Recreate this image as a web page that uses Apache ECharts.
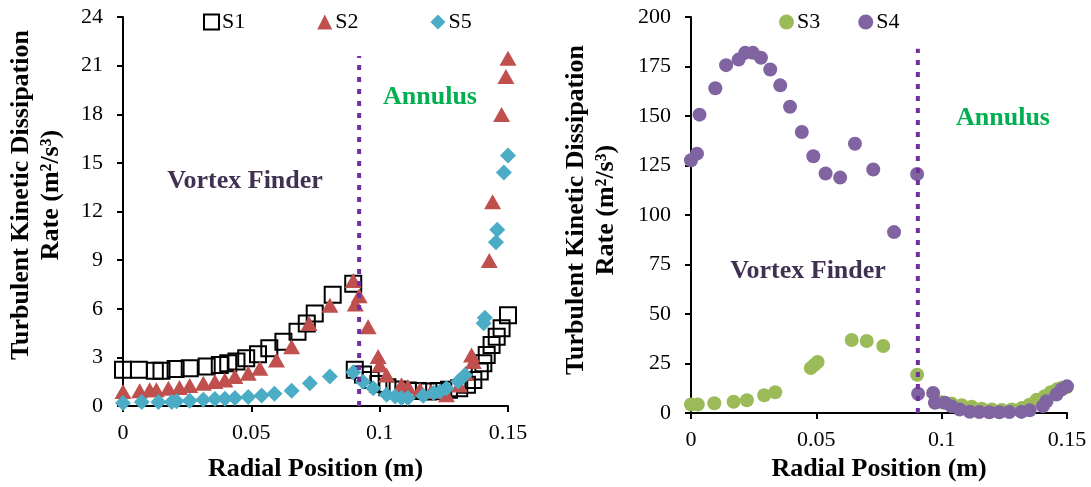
<!DOCTYPE html>
<html>
<head>
<meta charset="utf-8">
<script src="https://cdn.jsdelivr.net/npm/echarts@6/dist/echarts.min.js"></script>
<style>
  html, body { margin: 0; padding: 0; background: #fff; }
  #chart { width: 1091px; height: 487px; }
</style>
</head>
<body>
<div id="chart"></div>
<script>
// ---- Left panel: S1, S2, S5 ----
const s1X = [0, 0.0062, 0.0124, 0.015, 0.0205, 0.026, 0.0326, 0.0377, 0.041, 0.0442, 0.048, 0.0526, 0.057, 0.0625, 0.068, 0.0716, 0.0747, 0.0817, 0.0897, 0.0903, 0.0935, 0.0965, 0.0995, 0.103, 0.107, 0.111, 0.115, 0.119, 0.123, 0.127, 0.131, 0.134, 0.1365, 0.139, 0.1404, 0.1417, 0.1436, 0.1456, 0.1475, 0.150];
const s1Y = [2.23, 2.23, 2.17, 2.17, 2.29, 2.33, 2.43, 2.53, 2.64, 2.74, 2.94, 3.19, 3.56, 3.97, 4.58, 5.09, 5.71, 6.87, 7.55, 2.23, 1.95, 1.6, 1.35, 1.15, 1.02, 0.95, 0.92, 0.9, 0.92, 1.0, 1.1, 1.31, 1.61, 2.13, 2.64, 3.15, 3.76, 4.28, 4.79, 5.6];

const s2X = [0, 0.0065, 0.0104, 0.013, 0.0177, 0.022, 0.026, 0.0313, 0.0358, 0.0397, 0.0436, 0.0488, 0.0533, 0.0598, 0.0657, 0.0725, 0.0806, 0.0897, 0.0905, 0.092, 0.0955, 0.0994, 0.1, 0.1027, 0.1085, 0.111, 0.1157, 0.12, 0.126, 0.131, 0.1335, 0.1358, 0.1365, 0.1427, 0.144, 0.1475, 0.1492, 0.150];
const s2Y = [0.9, 0.94, 1.0, 1.0, 1.1, 1.14, 1.27, 1.41, 1.51, 1.61, 1.82, 2.02, 2.33, 2.84, 3.66, 5.09, 6.22, 7.75, 6.3, 6.8, 4.89, 3.05, 2.53, 1.92, 1.31, 1.21, 1.0, 0.9, 0.69, 1.3, 2.0, 3.15, 2.74, 8.98, 12.6, 17.98, 20.33, 21.45];

const s5X = [0, 0.0073, 0.0138, 0.019, 0.0209, 0.026, 0.0313, 0.0358, 0.0397, 0.0436, 0.0488, 0.054, 0.059, 0.0657, 0.0728, 0.0806, 0.0897, 0.0935, 0.0975, 0.1027, 0.106, 0.1085, 0.111, 0.117, 0.121, 0.1235, 0.126, 0.1306, 0.1332, 0.1405, 0.141, 0.1453, 0.1458, 0.1484, 0.150];
const s5Y = [0.18, 0.25, 0.25, 0.25, 0.29, 0.33, 0.39, 0.43, 0.45, 0.49, 0.55, 0.65, 0.76, 0.94, 1.41, 1.82, 2.08, 1.5, 1.1, 0.69, 0.59, 0.49, 0.49, 0.63, 0.8, 0.9, 1.1, 1.51, 1.92, 5.1, 5.45, 10.1, 10.88, 14.4, 15.46];

// ---- Right panel: S3, S4 ----
const s3X = [0, 0.0027, 0.0093, 0.017, 0.0223, 0.0292, 0.0336, 0.0478, 0.0492, 0.0505, 0.0641, 0.0701, 0.0767, 0.0902, 0.1, 0.104, 0.108, 0.112, 0.116, 0.12, 0.124, 0.128, 0.132, 0.135, 0.1378, 0.1411, 0.1435, 0.146, 0.148, 0.1498];
const s3Y = [4.35, 4.35, 5, 5.7, 6.5, 9, 10.5, 22.8, 24.3, 25.8, 36.9, 36.4, 33.9, 19.4, 5.5, 4.8, 4, 3.2, 2.2, 1.8, 1.6, 1.8, 2.6, 4.2, 6.7, 8.5, 10.5, 12, 12.8, 13];

const s4X = [0, 0.0024, 0.0034, 0.0097, 0.014, 0.019, 0.0216, 0.0247, 0.0279, 0.0316, 0.0356, 0.0395, 0.0442, 0.0488, 0.0537, 0.0595, 0.0654, 0.0727, 0.081, 0.0902, 0.0906, 0.0966, 0.0973, 0.1013, 0.1039, 0.1072, 0.1112, 0.115, 0.119, 0.123, 0.127, 0.1318, 0.1351, 0.1404, 0.1418, 0.1458, 0.1478, 0.150];
const s4Y = [127.7, 131, 150.7, 164, 175.7, 178.5, 181.9, 181.9, 179.4, 173.5, 165.5, 154.7, 141.9, 129.7, 121, 118.9, 136, 123, 91.4, 120.7, 9.8, 10.2, 5.2, 5.2, 3.5, 1.8, 0.7, 0.5, 0.4, 0.4, 0.5, 0.6, 1.4, 3.5, 6, 9.4, 11.9, 13.5];

// Vortex finder wall (dotted divider) in each panel: [x, top]
const wallLeft = [0.092, 21.6];
const wallRight = [0.0905, 184];

// Axis ticks
const xTicks = [0, 0.05, 0.1, 0.15];
const yTicksLeft = [0, 3, 6, 9, 12, 15, 18, 21, 24];
const yTicksRight = [0, 25, 50, 75, 100, 125, 150, 175, 200];

const zip = (xs, ys) => xs.map((x, i) => [x, ys[i]]);

const SERIF = '"Liberation Serif", "Times New Roman", serif';
const tickFont = { fontFamily: SERIF, fontSize: 22, color: '#000' };

function xAxisFor(grid, gap) {
  return {
    type: 'value', gridIndex: grid,
    min: xTicks[0], max: xTicks[xTicks.length - 1], interval: xTicks[1] - xTicks[0],
    name: 'Radial Position (m)', nameLocation: 'middle', nameGap: gap,
    nameTextStyle: { fontFamily: SERIF, fontSize: 26, fontWeight: 'bold', color: '#000' },
    axisLine: { show: true, onZero: false, lineStyle: { color: '#000', width: 2 } },
    axisTick: { show: true, length: 6, lineStyle: { color: '#000', width: 2 } },
    axisLabel: Object.assign({ margin: 16 }, tickFont),
    splitLine: { show: false }
  };
}
function yAxisFor(grid, ticks) {
  return {
    type: 'value', gridIndex: grid,
    min: ticks[0], max: ticks[ticks.length - 1], interval: ticks[1] - ticks[0],
    axisLine: { show: true, onZero: false, lineStyle: { color: '#000', width: 2 } },
    axisTick: { show: true, length: 6, lineStyle: { color: '#000', width: 2 } },
    axisLabel: Object.assign({ margin: 20 }, tickFont),
    splitLine: { show: false }
  };
}

function wallSeries(xi, yi, wall) {
  return {
    type: 'line', xAxisIndex: xi, yAxisIndex: yi, z: 5,
    data: [[wall[0], 0], [wall[0], wall[1]]],
    symbol: 'none', silent: true,
    lineStyle: { color: '#7030a0', width: 4, type: [5, 7], cap: 'butt' }
  };
}

function textEl(x, y, text, color, rot) {
  return {
    type: 'text', x: x, y: y, rotation: rot || 0,
    style: {
      text: text, fill: color, align: 'center', verticalAlign: 'middle',
      font: 'bold 26px ' + SERIF, lineHeight: 30
    }
  };
}

const chart = echarts.init(document.getElementById('chart'));
chart.setOption({
  animation: false,
  backgroundColor: '#fff',
  grid: [
    { left: 123, top: 17, width: 385, height: 391 },
    { left: 691, top: 17, width: 376, height: 402 }
  ],
  xAxis: [xAxisFor(0, 50), xAxisFor(1, 40)],
  yAxis: [yAxisFor(0, yTicksLeft), yAxisFor(1, yTicksRight)],
  legend: [
    {
      left: 198, top: 6, itemGap: 72, itemWidth: 15, itemHeight: 15,
      textStyle: { fontFamily: SERIF, fontSize: 22, color: '#000', padding: [0, 0, 0, -2] },
      data: ['S1', 'S2', 'S5']
    },
    {
      left: 774, top: 6, itemGap: 38, itemWidth: 15, itemHeight: 15,
      textStyle: { fontFamily: SERIF, fontSize: 22, color: '#000', padding: [0, 0, 0, -2] },
      data: ['S3', 'S4']
    }
  ],
  graphic: [
    textEl(36, 195, 'Turbulent Kinetic Dissipation\nRate (m²/s³)', '#000', Math.PI / 2),
    textEl(591, 210, 'Turbulent Kinetic Dissipation\nRate (m²/s³)', '#000', Math.PI / 2),
    textEl(245, 181, 'Vortex Finder', '#403152'),
    textEl(430, 97, 'Annulus', '#00b050'),
    textEl(808, 271, 'Vortex Finder', '#403152'),
    textEl(1003, 118, 'Annulus', '#00b050')
  ],
  series: [
    {
      name: 'S1', type: 'scatter', xAxisIndex: 0, yAxisIndex: 0,
      symbol: 'rect', symbolSize: 16,
      itemStyle: { color: 'rgba(255,255,255,0)', borderColor: '#000', borderWidth: 2, opacity: 1 },
      data: zip(s1X, s1Y)
    },
    {
      name: 'S2', type: 'scatter', xAxisIndex: 0, yAxisIndex: 0,
      symbol: 'triangle', symbolSize: [17, 15],
      itemStyle: { color: '#c0504d', opacity: 1 },
      data: zip(s2X, s2Y)
    },
    {
      name: 'S5', type: 'scatter', xAxisIndex: 0, yAxisIndex: 0,
      symbol: 'diamond', symbolSize: 16,
      itemStyle: { color: '#4bacc6', opacity: 1 },
      data: zip(s5X, s5Y)
    },
    wallSeries(0, 0, wallLeft),
    {
      name: 'S3', type: 'scatter', xAxisIndex: 1, yAxisIndex: 1,
      symbol: 'circle', symbolSize: 14,
      itemStyle: { color: '#9bbb59', opacity: 1 },
      data: zip(s3X, s3Y)
    },
    {
      name: 'S4', type: 'scatter', xAxisIndex: 1, yAxisIndex: 1,
      symbol: 'circle', symbolSize: 14,
      itemStyle: { color: '#8064a2', opacity: 1 },
      data: zip(s4X, s4Y)
    },
    wallSeries(1, 1, wallRight)
  ]
});
</script>
</body>
</html>
